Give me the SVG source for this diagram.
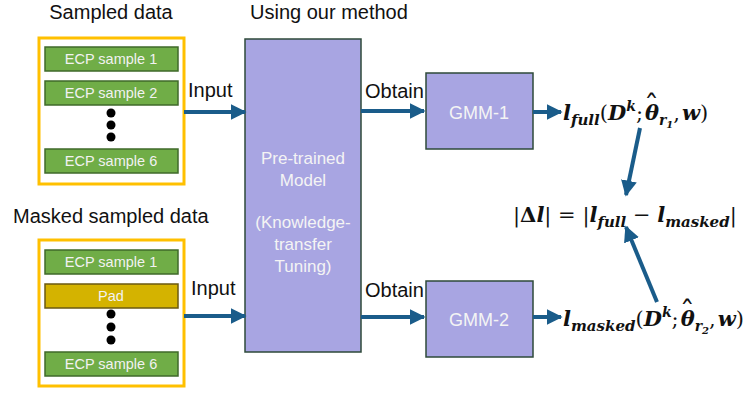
<svg xmlns="http://www.w3.org/2000/svg" width="751" height="395" viewBox="0 0 751 395">
<defs>
<style>
.lbl{font-family:"Liberation Sans",Arial,sans-serif;font-size:20px;fill:#111}
.bar{fill:#70AD47;stroke:#3F6A2A;stroke-width:1.5}
.pad{fill:#D4B300;stroke:#6B5A10;stroke-width:1.5}
.bt{font-family:"Liberation Sans",Arial,sans-serif;font-size:14.5px;fill:#F2F2F2;text-anchor:middle}
.frame{fill:#fff;stroke:#FFC000;stroke-width:3}
.pur{fill:#A8A5E2;stroke:#2E4A3A;stroke-width:1.5}
.pt{font-family:"Liberation Sans",Arial,sans-serif;font-size:17px;fill:#F4F4F4;text-anchor:middle}
.gt{font-family:"Liberation Sans",Arial,sans-serif;font-size:18px;fill:#F4F4F4;text-anchor:middle}
.math{font-family:"DejaVu Serif",serif;font-size:21px;font-weight:bold;font-style:italic;fill:#111}
.up{font-style:normal;font-weight:normal}
.con{stroke:#1A5C8A;stroke-width:4;fill:none;marker-end:url(#ah)}
</style>
<marker id="ah" viewBox="0 0 10 10" refX="9" refY="5" markerWidth="4" markerHeight="4" orient="auto" markerUnits="strokeWidth">
<path d="M0,0 L10,5 L0,10 z" fill="#1A5C8A"/>
</marker>
</defs>
<rect width="751" height="395" fill="#fff"/>

<g id="sampled">
<text class="lbl" x="111" y="19" text-anchor="middle">Sampled data</text>
<rect class="frame" x="39" y="38" width="145" height="146"/>
<rect class="bar" x="45" y="47" width="133" height="24"/>
<text class="bt" x="111" y="64">ECP sample 1</text>
<rect class="bar" x="45" y="81" width="133" height="24"/>
<text class="bt" x="111" y="98">ECP sample 2</text>
<circle cx="111" cy="113" r="4.5" fill="#000"/>
<circle cx="111" cy="125" r="4.5" fill="#000"/>
<circle cx="111" cy="137" r="4.5" fill="#000"/>
<rect class="bar" x="45" y="149" width="133" height="24"/>
<text class="bt" x="111" y="166">ECP sample 6</text>
</g>

<g id="masked">
<text class="lbl" x="13" y="223">Masked sampled data</text>
<rect class="frame" x="39" y="240" width="145" height="146"/>
<rect class="bar" x="45" y="250" width="133" height="24"/>
<text class="bt" x="111" y="267">ECP sample 1</text>
<rect class="pad" x="45" y="284" width="133" height="24"/>
<text class="bt" x="111" y="301">Pad</text>
<circle cx="111" cy="314" r="4.5" fill="#000"/>
<circle cx="111" cy="327" r="4.5" fill="#000"/>
<circle cx="111" cy="340" r="4.5" fill="#000"/>
<rect class="bar" x="45" y="352" width="133" height="24"/>
<text class="bt" x="111" y="369">ECP sample 6</text>
</g>

<g id="model">
<text class="lbl" x="250" y="19">Using our method</text>
<rect class="pur" x="245" y="39" width="116" height="313"/>
<text class="pt" x="303" y="164">Pre-trained</text>
<text class="pt" x="303" y="186">Model</text>
<text class="pt" x="303" y="228">(Knowledge-</text>
<text class="pt" x="303" y="250">transfer</text>
<text class="pt" x="303" y="272">Tuning)</text>
</g>

<g id="gmm1">
<rect class="pur" x="426" y="73" width="107" height="76"/>
<text class="gt" x="479" y="119">GMM-1</text>
</g>
<g id="gmm2">
<rect class="pur" x="426" y="281" width="107" height="76"/>
<text class="gt" x="479" y="326">GMM-2</text>
</g>

<g id="lfull">
<text class="math" x="563" y="120">l<tspan font-size="15" dy="5">full</tspan><tspan dy="-5" class="up">(</tspan>D<tspan font-size="14" dy="-9">k</tspan><tspan dy="9" class="up">;</tspan><tspan dx="2">θ</tspan><tspan class="up" font-size="30" dx="-15" dy="-4">ˆ</tspan><tspan font-size="14" dy="9">r</tspan><tspan font-size="10" dy="3">1</tspan><tspan dy="-8" class="up">,</tspan><tspan dx="2">w</tspan><tspan class="up">)</tspan></text>
</g>
<g id="lmasked">
<text class="math" x="563" y="326">l<tspan font-size="15" dy="5">masked</tspan><tspan dy="-5" class="up">(</tspan>D<tspan font-size="14" dy="-9">k</tspan><tspan dy="9" class="up">;</tspan><tspan dx="2">θ</tspan><tspan class="up" font-size="30" dx="-15" dy="-4">ˆ</tspan><tspan font-size="14" dy="9">r</tspan><tspan font-size="10" dy="3">2</tspan><tspan dy="-8" class="up">,</tspan><tspan dx="2">w</tspan><tspan class="up">)</tspan></text>
</g>
<g id="delta">
<text class="math" x="513" y="222"><tspan class="up">|</tspan><tspan font-style="normal">Δ</tspan>l<tspan class="up">| = |</tspan>l<tspan font-size="15" dy="5">full</tspan><tspan dy="-5" class="up"> − </tspan>l<tspan font-size="15" dy="5">masked</tspan><tspan dy="-5" class="up">|</tspan></text>
</g>

<g id="connectors">
<text class="lbl" x="188" y="97">Input</text>
<text class="lbl" x="191" y="295">Input</text>
<text class="lbl" x="365" y="98">Obtain</text>
<text class="lbl" x="365" y="297">Obtain</text>
<line class="con" x1="184" y1="112" x2="245" y2="112"/>
<line class="con" x1="184" y1="316" x2="245" y2="316"/>
<line class="con" x1="361" y1="111" x2="424" y2="111"/>
<line class="con" x1="361" y1="317" x2="424" y2="317"/>
<line class="con" x1="533" y1="112" x2="561" y2="112"/>
<line class="con" x1="533" y1="317" x2="561" y2="317"/>
<line class="con" x1="640" y1="128" x2="626" y2="195"/>
<line class="con" x1="657" y1="302" x2="626" y2="227"/>
</g>
</svg>
